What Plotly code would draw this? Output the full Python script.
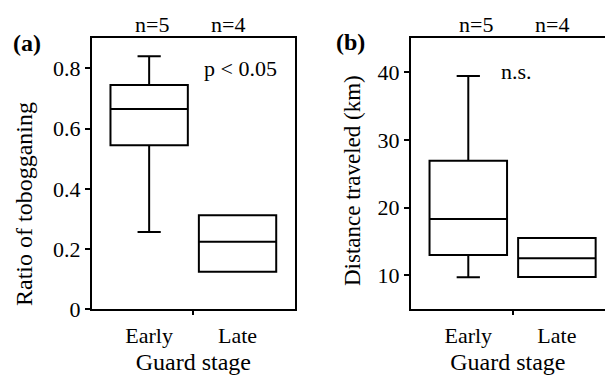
import plotly.graph_objects as go

categories = ["Early", "Late"]
n_labels = ["n=5", "n=4"]
x_title = "Guard stage"

# Panel (a): Ratio of tobogganing
a_q1 = [0.545, 0.125]
a_median = [0.665, 0.224]
a_q3 = [0.745, 0.312]
a_low = [0.257, 0.125]
a_high = [0.840, 0.312]

# Panel (b): Distance traveled (km)
b_q1 = [13.0, 9.75]
b_median = [18.33, 12.53]
b_q3 = [26.94, 15.53]
b_low = [9.72, 9.75]
b_high = [39.45, 15.53]

FONT = "Liberation Serif"
W, H = 605, 375

fig = go.Figure()
xpos = list(range(len(categories)))

for i in xpos:
    fig.add_trace(go.Box(
        x=[i], q1=[a_q1[i]], median=[a_median[i]], q3=[a_q3[i]],
        lowerfence=[a_low[i]], upperfence=[a_high[i]],
        width=0.875, whiskerwidth=0.3, fillcolor="rgba(0,0,0,0)",
        line=dict(color="black", width=2), boxpoints=False,
        showlegend=False, xaxis="x", yaxis="y", hoverinfo="skip"))
    fig.add_trace(go.Box(
        x=[i], q1=[b_q1[i]], median=[b_median[i]], q3=[b_q3[i]],
        lowerfence=[b_low[i]], upperfence=[b_high[i]],
        width=0.875, whiskerwidth=0.3, fillcolor="rgba(0,0,0,0)",
        line=dict(color="black", width=2), boxpoints=False,
        showlegend=False, xaxis="x2", yaxis="y2", hoverinfo="skip"))

ydom = [1 - 309.3 / H, 1 - 38.3 / H]
tickfont = dict(family=FONT, size=22, color="black")

common_x = dict(
    tickvals=xpos, ticktext=categories, ticks="", showline=True,
    linecolor="black", linewidth=1.5, showgrid=False, zeroline=False,
    tickfont=tickfont, fixedrange=True, ticklabelstandoff=6, automargin=False,
    title=dict(text=x_title, font=dict(family=FONT, size=24, color="black"), standoff=18),
    minor=dict(tickvals=[0.5], ticks="outside", ticklen=4, tickcolor="black", tickwidth=1.5),
)
common_y = dict(
    ticks="outside", ticklen=5, tickwidth=1.5, tickcolor="black",
    showline=True, linecolor="black", linewidth=1.5, showgrid=False,
    zeroline=False, tickfont=tickfont, fixedrange=True, automargin=False,
)

fig.update_layout(
    width=W, height=H,
    margin=dict(l=0, r=0, t=0, b=0),
    paper_bgcolor="white", plot_bgcolor="white",
    font=dict(family=FONT, color="black"),
    xaxis=dict(domain=[91.7 / W, 295 / W], range=[-0.65, 1.65], mirror=True,
               anchor="y", **common_x),
    yaxis=dict(domain=ydom, range=[0, 0.9], tickvals=[0, 0.2, 0.4, 0.6, 0.8],
               ticktext=["0", "0.2", "0.4", "0.6", "0.8"], mirror=True,
               anchor="x", **common_y),
    xaxis2=dict(domain=[410.7 / W, 1.0], range=[-0.65, 1.543], mirror=True,
                anchor="y2", **common_x),
    yaxis2=dict(domain=ydom, range=[5, 45], tickvals=[10, 20, 30, 40],
                mirror=False, anchor="x2", **common_y),
)

def px_ann(x, y, text, size=22, bold=False, angle=0, yanchor="middle"):
    fig.add_annotation(
        x=x / W, y=1 - y / H, xref="paper", yref="paper", text=("<b>%s</b>" % text) if bold else text,
        showarrow=False, xanchor="center", yanchor=yanchor, textangle=angle,
        font=dict(family=FONT, size=size, color="black"))

# n labels
px_ann(151.7, 25, n_labels[0])
px_ann(228, 25, n_labels[1])
px_ann(475.7, 25, n_labels[0])
px_ann(552, 25, n_labels[1])
# panel labels
px_ann(27, 43, "(a)", size=24, bold=True)
px_ann(350, 42, "(b)", size=24, bold=True)
# stats
px_ann(240, 69, "p &lt; 0.05")
px_ann(516.5, 71, "n.s.")
# y-axis titles
px_ann(24, 204, "Ratio of tobogganing", size=24, angle=-90)
px_ann(352, 181, "Distance traveled (km)", size=23, angle=-90)

fig.write_html("out.html", config={"displayModeBar": False},
               post_script="document.body.style.margin='0';")
